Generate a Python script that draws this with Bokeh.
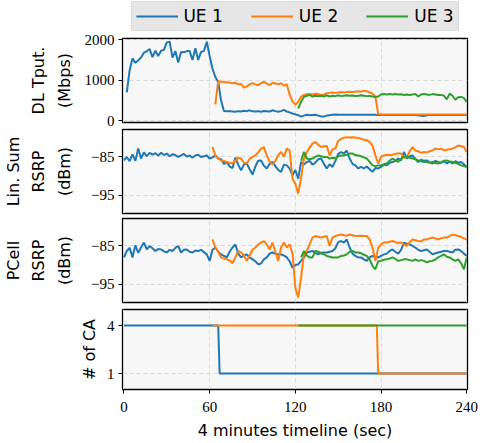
import numpy as np
from bokeh.plotting import figure
from bokeh.layouts import column
from bokeh.models import Legend, LegendItem, Range1d, FixedTicker
from bokeh.embed import file_html
from bokeh.resources import INLINE

# ---------------- data ----------------
STEP = 2  # seconds between samples
x_ticks = [0, 60, 120, 180, 240]
labels = ["UE 1", "UE 2", "UE 3"]

# DL throughput (Mbps)
tput_ue1_start = 2
tput_ue1 = [700, 1250, 1540, 1430, 1490, 1560, 1680, 1715, 1770, 1570, 1730, 1600, 1730, 1750,
            1935, 1950, 1560, 1720, 1440, 1700, 1690, 1720, 1720, 1500, 1790, 1500, 1700, 1720,
            1950, 1600, 1285, 1080, 960, 500, 244, 240, 235, 230, 225, 240, 230, 250, 240, 260,
            235, 230, 240, 225, 245, 240, 230, 260, 240, 225, 240, 270, 230, 210, 180, 160, 140,
            105, 130, 150, 140, 145, 150, 130, 110, 105, 130, 140, 150, 155, 150, 148, 150, 152,
            148, 150, 150, 148, 150, 152, 150, 148, 150, 150, 146, 146, 145, 145, 146, 145, 144,
            145, 146, 145, 144, 145, 146, 145, 140, 125, 120, 140, 145, 146, 145, 144, 145, 146,
            145, 144, 145, 146, 145, 144, 145, 145]
tput_ue2_start = 64
tput_ue2 = [407, 983, 960, 950, 950, 940, 930, 940, 900, 910, 820, 850, 900, 930, 900, 880, 930,
            960, 920, 880, 940, 920, 900, 930, 870, 900, 650, 480, 400, 470, 593, 640, 658, 660,
            650, 670, 660, 640, 650, 680, 690, 700, 690, 700, 710, 700, 710, 720, 710, 720, 730,
            720, 740, 732, 700, 670, 600, 170, 160, 160, 160, 160, 160, 160, 160, 160, 160, 160,
            160, 160, 160, 160, 160, 160, 160, 160, 160, 160, 160, 160, 160, 160, 160, 160, 160,
            160, 160, 160, 160]
tput_ue3_start = 122
tput_ue3 = [310, 470, 590, 620, 640, 600, 620, 610, 620, 600, 630, 600, 620, 610, 630, 610, 620,
            630, 620, 625, 615, 620, 630, 620, 610, 615, 600, 590, 600, 650, 660, 650, 660, 650,
            660, 650, 655, 640, 650, 640, 650, 660, 600, 650, 660, 650, 640, 660, 650, 640, 640,
            620, 530, 670, 620, 520, 580, 590, 560, 470]

# Linear-sum RSRP (dBm)
lin_ue1_start = 0
lin_ue1 = [-85.9, -85.0, -86.1, -84.3, -86.0, -82.8, -85.4, -83.8, -84.8, -83.9, -84.4, -84.0,
           -84.6, -83.9, -84.5, -84.1, -84.8, -84.3, -84.5, -85.0, -84.6, -84.2, -84.9, -84.6,
           -85.2, -84.6, -84.4, -85.0, -84.8, -84.6, -85.4, -85.1, -84.6, -85.4, -85.6, -86.8,
           -86.3, -87.5, -87.9, -85.2, -87.0, -88.5, -87.0, -86.7, -88.2, -89.6, -87.5, -86.0,
           -85.9, -87.3, -88.0, -86.8, -86.3, -87.4, -88.4, -88.9, -87.0, -87.2, -88.0, -89.8,
           -88.4, -90.7, -86.3, -87.0, -86.3, -86.0, -87.0, -86.5, -85.6, -85.4, -86.8, -88.0,
           -86.9, -87.6, -86.0, -84.2, -83.7, -84.1, -83.3, -85.4, -86.8, -87.2, -88.0, -87.6,
           -88.0, -87.5, -88.2, -88.9, -87.9, -88.0, -87.6, -87.0, -87.2, -86.5, -86.3, -86.0,
           -85.4, -85.9, -83.7, -85.4, -84.8, -84.6, -85.5, -86.3, -85.7, -86.0, -85.9, -86.4,
           -86.7, -86.0, -86.3, -86.5, -86.0, -86.7, -86.2, -86.7, -86.1, -86.5, -86.3, -86.9,
           -87.6]
lin_ue2_start = 62
lin_ue2 = [-82.4, -84.6, -85.4, -85.9, -86.0, -86.3, -86.5, -86.7, -86.0, -85.2, -85.4, -86.5,
           -86.7, -85.5, -85.0, -84.6, -83.8, -82.8, -82.4, -84.6, -86.3, -87.0, -86.0, -84.5,
           -83.7, -84.9, -82.8, -83.3, -90.7, -92.0, -94.6, -90.5, -85.4, -83.7, -82.5, -81.5,
           -81.1, -81.8, -82.4, -82.2, -82.1, -84.6, -83.0, -82.8, -80.8, -80.2, -80.0, -79.8,
           -79.9, -79.8, -79.9, -80.0, -80.2, -80.5, -80.6, -81.1, -82.0, -84.6, -86.7, -85.0,
           -84.6, -84.4, -84.5, -84.4, -84.2, -84.0, -84.1, -85.2, -85.0, -83.5, -82.4, -83.3,
           -83.5, -83.9, -83.7, -83.8, -83.5, -83.3, -82.8, -83.0, -82.8, -83.3, -83.1, -83.0,
           -82.8, -82.5, -82.0, -82.2, -82.4, -83.7]
lin_ue3_start = 124
lin_ue3 = [-86.0, -83.7, -85.4, -85.6, -85.4, -85.0, -84.6, -84.8, -85.0, -85.0, -85.4, -85.2,
           -85.4, -84.8, -84.6, -84.6, -84.4, -84.1, -84.1, -84.5, -84.6, -84.8, -85.1, -85.4,
           -86.3, -87.2, -87.4, -87.2, -87.2, -86.9, -86.7, -86.0, -85.4, -85.9, -86.3, -85.4,
           -85.0, -84.9, -85.2, -85.4, -85.6, -85.9, -86.1, -86.3, -86.3, -86.5, -86.3, -86.6,
           -86.7, -86.5, -86.0, -85.9, -86.2, -86.3, -86.5, -86.8, -87.2, -87.4, -87.6]

# PCell RSRP (dBm)
pc_ue1_start = 0
pc_ue1 = [-88.0, -86.3, -85.5, -88.0, -84.8, -86.8, -85.4, -84.1, -85.9, -85.0, -85.6, -86.3,
          -85.8, -85.9, -86.4, -86.7, -86.0, -86.3, -85.5, -85.0, -86.7, -86.0, -85.9, -86.5,
          -86.7, -86.2, -86.3, -86.0, -86.6, -87.2, -88.9, -86.0, -85.4, -86.5, -87.2, -87.6,
          -88.0, -86.5, -85.4, -84.6, -87.0, -88.0, -87.5, -87.2, -88.0, -88.5, -89.0, -89.8,
          -89.6, -88.5, -88.0, -87.0, -86.7, -87.0, -87.2, -87.2, -87.5, -88.0, -89.0, -90.7,
          -90.0, -89.8, -88.9, -88.0, -86.7, -86.5, -86.3, -86.8, -87.2, -86.8, -86.7, -86.7,
          -86.5, -86.3, -85.6, -84.0, -83.7, -84.1, -83.3, -85.4, -87.0, -87.6, -88.0, -88.0,
          -88.5, -88.9, -88.0, -87.6, -87.8, -88.0, -87.6, -87.2, -87.0, -86.3, -85.9, -86.5,
          -87.0, -86.0, -84.1, -84.4, -84.6, -85.0, -85.4, -86.0, -86.3, -86.1, -85.9, -86.5,
          -87.2, -86.9, -86.7, -86.5, -86.3, -86.3, -86.5, -86.7, -86.0, -85.9, -86.3, -87.0,
          -87.6]
pc_ue2_start = 62
pc_ue2 = [-83.3, -85.4, -86.5, -88.0, -88.3, -88.5, -88.8, -89.5, -88.0, -86.3, -86.7, -87.5,
          -88.9, -87.5, -86.0, -85.4, -84.6, -84.1, -83.7, -84.6, -85.9, -84.1, -86.5, -88.9,
          -85.4, -84.1, -85.4, -84.6, -87.0, -95.9, -98.5, -93.3, -87.2, -86.3, -84.6, -82.8,
          -82.4, -82.6, -82.8, -82.6, -82.4, -85.0, -82.8, -82.4, -82.2, -82.0, -82.2, -82.3,
          -82.0, -82.2, -82.4, -82.4, -82.3, -82.4, -82.4, -83.3, -85.4, -88.9, -85.5, -84.6,
          -84.1, -84.1, -83.9, -83.7, -84.0, -84.2, -84.1, -84.6, -85.0, -84.0, -83.3, -83.5,
          -83.7, -83.8, -83.3, -83.3, -83.0, -82.8, -83.0, -83.3, -83.0, -82.8, -82.8, -82.4,
          -82.0, -82.2, -82.4, -82.6, -83.0, -83.3]
pc_ue3_start = 124
pc_ue3 = [-88.0, -86.3, -87.5, -88.0, -88.0, -86.3, -86.5, -86.9, -87.2, -87.6, -87.8, -88.0,
          -88.0, -88.0, -87.6, -87.5, -87.2, -86.5, -86.3, -86.7, -86.7, -86.9, -87.3, -87.6,
          -88.5, -90.2, -91.1, -89.0, -88.9, -88.6, -88.5, -88.3, -88.0, -88.4, -88.9, -88.7,
          -88.5, -88.5, -88.7, -88.9, -88.5, -88.9, -88.7, -88.9, -89.3, -89.0, -88.9, -88.5,
          -88.0, -87.6, -87.2, -87.8, -88.0, -88.5, -88.9, -88.5, -89.5, -91.1, -88.0]

# Number of component carriers
ca_ue1_t = [0, 66, 67, 240]
ca_ue1 = [4, 4, 1, 1]
ca_ue2_t = [62, 177, 178, 240]
ca_ue2 = [4, 4, 1, 1]
ca_ue3_t = [122, 240]
ca_ue3 = [4, 4]

# ---------------- styling ----------------
COLORS = ["#1f77b4", "#ff7f0e", "#2ca02c"]
SERIF = "Liberation Serif"
SANS = "DejaVu Sans"
GRID = "#d9d9d9"
LEFT, RIGHT, FRAME_W = 122, 12, 345


def times(start, vals):
    return start + STEP * np.arange(len(vals))


def make_fig(yr, yticks, ylabels, ylabel, top, frame_h, bottom, label_gap, show_x=False):
    p = figure(width=LEFT + FRAME_W + RIGHT, height=top + frame_h + bottom,
               x_range=Range1d(-1, 240.5), y_range=Range1d(*yr),
               output_backend="svg", toolbar_location=None,
               min_border_left=LEFT, min_border_right=RIGHT, min_border_top=top,
               min_border_bottom=bottom)
    p.background_fill_color = "#f7f7f7"
    p.border_fill_color = "white"
    p.outline_line_color = "black"
    p.outline_line_width = 1.3
    p.xaxis.ticker = FixedTicker(ticks=x_ticks)
    p.xgrid.ticker = FixedTicker(ticks=x_ticks)
    p.yaxis.ticker = FixedTicker(ticks=yticks)
    p.ygrid.ticker = FixedTicker(ticks=yticks)
    for g in (p.xgrid, p.ygrid):
        g.grid_line_color = GRID
        g.grid_line_dash = "4 3"
        g.grid_line_width = 1
    for ax in (p.xaxis, p.yaxis):
        ax.axis_line_color = None
        ax.major_tick_out = 4
        ax.major_tick_in = 0
        ax.minor_tick_line_color = None
        ax.major_tick_line_color = "black"
        ax.major_label_text_font = SERIF
        ax.major_label_text_font_size = "15px"
        ax.major_label_text_color = "black"
        ax.major_label_text_line_height = 1.0
        ax.axis_label_text_font = SANS
        ax.axis_label_text_font_size = "16px"
        ax.axis_label_text_font_style = "normal"
        ax.axis_label_text_color = "black"
        ax.axis_label_text_line_height = 1.35
    p.yaxis.major_label_overrides = dict(zip(yticks, ylabels))
    p.yaxis.axis_label = ylabel
    p.yaxis.axis_label_standoff = label_gap
    p.yaxis.major_label_standoff = 4
    if show_x:
        p.xaxis.axis_label = "4 minutes timeline (sec)"
        p.xaxis.major_label_standoff = 8
        p.xaxis.axis_label_standoff = 6
    else:
        p.xaxis.visible = False
    return p


# legend strip (its own small canvas above the panels)
p0 = figure(width=LEFT + FRAME_W + RIGHT, height=31, x_range=Range1d(1000, 1001),
            y_range=Range1d(0, 1), output_backend="svg", toolbar_location=None,
            min_border_left=LEFT, min_border_right=RIGHT, min_border_top=0, min_border_bottom=0)
p0.axis.visible = False
p0.grid.visible = False
p0.outline_line_color = None
p0.background_fill_color = "white"
p0.border_fill_color = "white"
g1 = p0.line(times(tput_ue1_start, tput_ue1), tput_ue1, color=COLORS[0], line_width=2)
g2 = p0.line(times(tput_ue2_start, tput_ue2), tput_ue2, color=COLORS[1], line_width=2)
g3 = p0.line(times(tput_ue3_start, tput_ue3), tput_ue3, color=COLORS[2], line_width=2)
legend = Legend(items=[LegendItem(label=labels[0], renderers=[g1]),
                       LegendItem(label=labels[1], renderers=[g2]),
                       LegendItem(label=labels[2], renderers=[g3])],
                orientation="horizontal", location="center")
legend.label_text_font = SANS
legend.label_text_font_size = "17px"
legend.label_text_color = "black"
legend.glyph_width = 42
legend.glyph_height = 18
legend.label_standoff = 6
legend.spacing = 28
legend.padding = 4
legend.margin = 0
legend.background_fill_color = "#e6e6e6"
legend.background_fill_alpha = 1.0
legend.border_line_color = "#cfcfcf"
legend.border_line_width = 1
p0.add_layout(legend, "center")

p1 = make_fig((-40, 2030), [0, 1000, 2000], ["0", "1000", "2000"], "DL Tput.\n(Mbps)", 7, 84, 6, 8)
p1.line(times(tput_ue1_start, tput_ue1), tput_ue1, color=COLORS[0], line_width=2)
p1.line(times(tput_ue2_start, tput_ue2), tput_ue2, color=COLORS[1], line_width=2)
p1.line(times(tput_ue3_start, tput_ue3), tput_ue3, color=COLORS[2], line_width=2)

p2 = make_fig((-99.8, -77.8), [-95, -85], ["\u221295", "\u221285"], "Lin. Sum\nRSRP\n(dBm)", 1, 84, 2, 14)
p2.line(times(lin_ue1_start, lin_ue1), lin_ue1, color=COLORS[0], line_width=2)
p2.line(times(lin_ue2_start, lin_ue2), lin_ue2, color=COLORS[1], line_width=2)
p2.line(times(lin_ue3_start, lin_ue3), lin_ue3, color=COLORS[2], line_width=2)

p3 = make_fig((-99.8, -77.8), [-95, -85], ["\u221295", "\u221285"], "PCell\nRSRP\n(dBm)", 3, 84, 2, 14)
p3.line(times(pc_ue1_start, pc_ue1), pc_ue1, color=COLORS[0], line_width=2)
p3.line(times(pc_ue2_start, pc_ue2), pc_ue2, color=COLORS[1], line_width=2)
p3.line(times(pc_ue3_start, pc_ue3), pc_ue3, color=COLORS[2], line_width=2)

p4 = make_fig((0, 5), [1, 4], ["1", "4"], "# of CA", 5, 85, 48, 5, show_x=True)
p4.line(ca_ue1_t, ca_ue1, color=COLORS[0], line_width=2)
p4.line(ca_ue2_t, ca_ue2, color=COLORS[1], line_width=2)
p4.line(ca_ue3_t, ca_ue3, color=COLORS[2], line_width=2)

layout = column(p0, p1, p2, p3, p4, spacing=0)
open("out.html", "w").write(file_html(layout, INLINE))
